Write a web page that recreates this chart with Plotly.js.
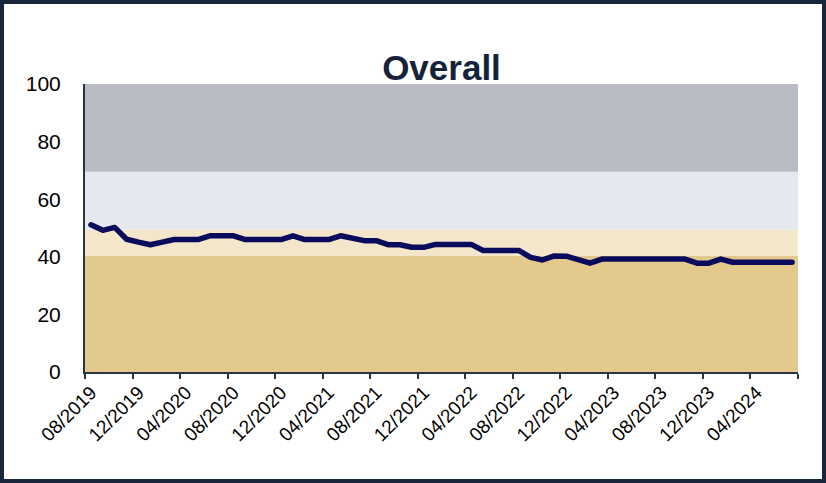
<!DOCTYPE html>
<html>
<head>
<meta charset="utf-8">
<script src="https://cdn.plot.ly/plotly-3.0.1.min.js"></script>
<style>
  html, body { margin: 0; padding: 0; background: #ffffff; }
  #frame { width: 826px; height: 483px; box-sizing: border-box; border: 4px solid #17263b; background: #fff; overflow: hidden; }
  #chart { width: 818px; height: 475px; }
  .js-line { stroke-linecap: round; stroke-linejoin: round; }
</style>
</head>
<body>
<div id="frame"><div id="chart"></div></div>
<script>
// Month categories (08/2019 .. 07/2024)
const months = [
  "08/2019","09/2019","10/2019","11/2019","12/2019","01/2020","02/2020","03/2020",
  "04/2020","05/2020","06/2020","07/2020","08/2020","09/2020","10/2020","11/2020",
  "12/2020","01/2021","02/2021","03/2021","04/2021","05/2021","06/2021","07/2021",
  "08/2021","09/2021","10/2021","11/2021","12/2021","01/2022","02/2022","03/2022",
  "04/2022","05/2022","06/2022","07/2022","08/2022","09/2022","10/2022","11/2022",
  "12/2022","01/2023","02/2023","03/2023","04/2023","05/2023","06/2023","07/2023",
  "08/2023","09/2023","10/2023","11/2023","12/2023","01/2024","02/2024","03/2024",
  "04/2024","05/2024","06/2024","07/2024"
];

// Overall score per month
const overall = [
  51.1, 49.2, 50.2, 46.1, 45.1, 44.2, 45.1, 46.0,
  46.0, 46.0, 47.3, 47.3, 47.3, 46.0, 46.0, 46.0,
  46.0, 47.3, 46.0, 46.0, 46.0, 47.3, 46.4, 45.6,
  45.6, 44.2, 44.2, 43.3, 43.3, 44.3, 44.3, 44.3,
  44.3, 42.2, 42.2, 42.2, 42.2, 39.8, 38.9, 40.3,
  40.2, 39.0, 37.8, 39.2, 39.2, 39.2, 39.2, 39.2,
  39.2, 39.2, 39.2, 37.8, 37.8, 39.2, 38.1, 38.1,
  38.1, 38.1, 38.1, 38.1
];

// Background bands
const bandLow    = [0, 40, 49.5, 69.5];
const bandHigh   = [40, 49.5, 69.5, 100];
const bandColors = ["#e3c98b", "#f3e6ca", "#e5e8ee", "#b9bcc4"];

const yTicks = [0, 20, 40, 60, 80, 100];

const shapes = bandLow.map((lo, i) => ({
  type: "rect", layer: "below",
  xref: "paper", x0: 0, x1: 1,
  yref: "y", y0: lo, y1: bandHigh[i],
  fillcolor: bandColors[i], line: { width: 0 }
}));
shapes.push({
  type: "line", layer: "below",
  xref: "paper", x0: 0, x1: 1,
  yref: "y", y0: bandHigh[0], y1: bandHigh[0],
  line: { color: "#d9bd7e", width: 1 }
});

const trace = {
  type: "scatter", mode: "lines",
  x: months, y: overall,
  line: { color: "#0b0b5e", width: 5.5 },
  hoverinfo: "skip", showlegend: false
};

const layout = {
  width: 818, height: 475,
  margin: { l: 81, r: 24, t: 80, b: 107, pad: 0 },
  paper_bgcolor: "#ffffff", plot_bgcolor: "#ffffff",
  font: { family: "Liberation Sans, Arial, sans-serif", color: "#000000" },
  title: {
    text: "<b>Overall</b>",
    font: { family: "Liberation Sans, Arial, sans-serif", size: 35, color: "#15233a" },
    x: 0.5, xref: "paper", xanchor: "center",
    y: 1, yref: "paper", yanchor: "bottom",
    pad: { b: 4 }
  },
  xaxis: {
    type: "category",
    range: [-0.5, months.length - 0.5],
    tickmode: "linear", tick0: 0, dtick: 4,
    tickson: "boundaries",
    ticks: "outside", ticklen: 5, tickwidth: 2, tickcolor: "#2a3442",
    tickangle: -45,
    tickfont: { size: 19, color: "#000000" },
    showline: true, linecolor: "#2a3442", linewidth: 2,
    showgrid: false, zeroline: false, fixedrange: true
  },
  yaxis: {
    range: [0, 100],
    tickmode: "array", tickvals: yTicks, ticktext: yTicks.map(String),
    ticks: "", ticklabelstandoff: 18,
    tickfont: { size: 21, color: "#000000" },
    showline: true, linecolor: "#2a3442", linewidth: 2,
    showgrid: false, zeroline: false, fixedrange: true
  },
  shapes: shapes
};

Plotly.newPlot("chart", [trace], layout, { displayModeBar: false, staticPlot: true });
</script>
</body>
</html>
